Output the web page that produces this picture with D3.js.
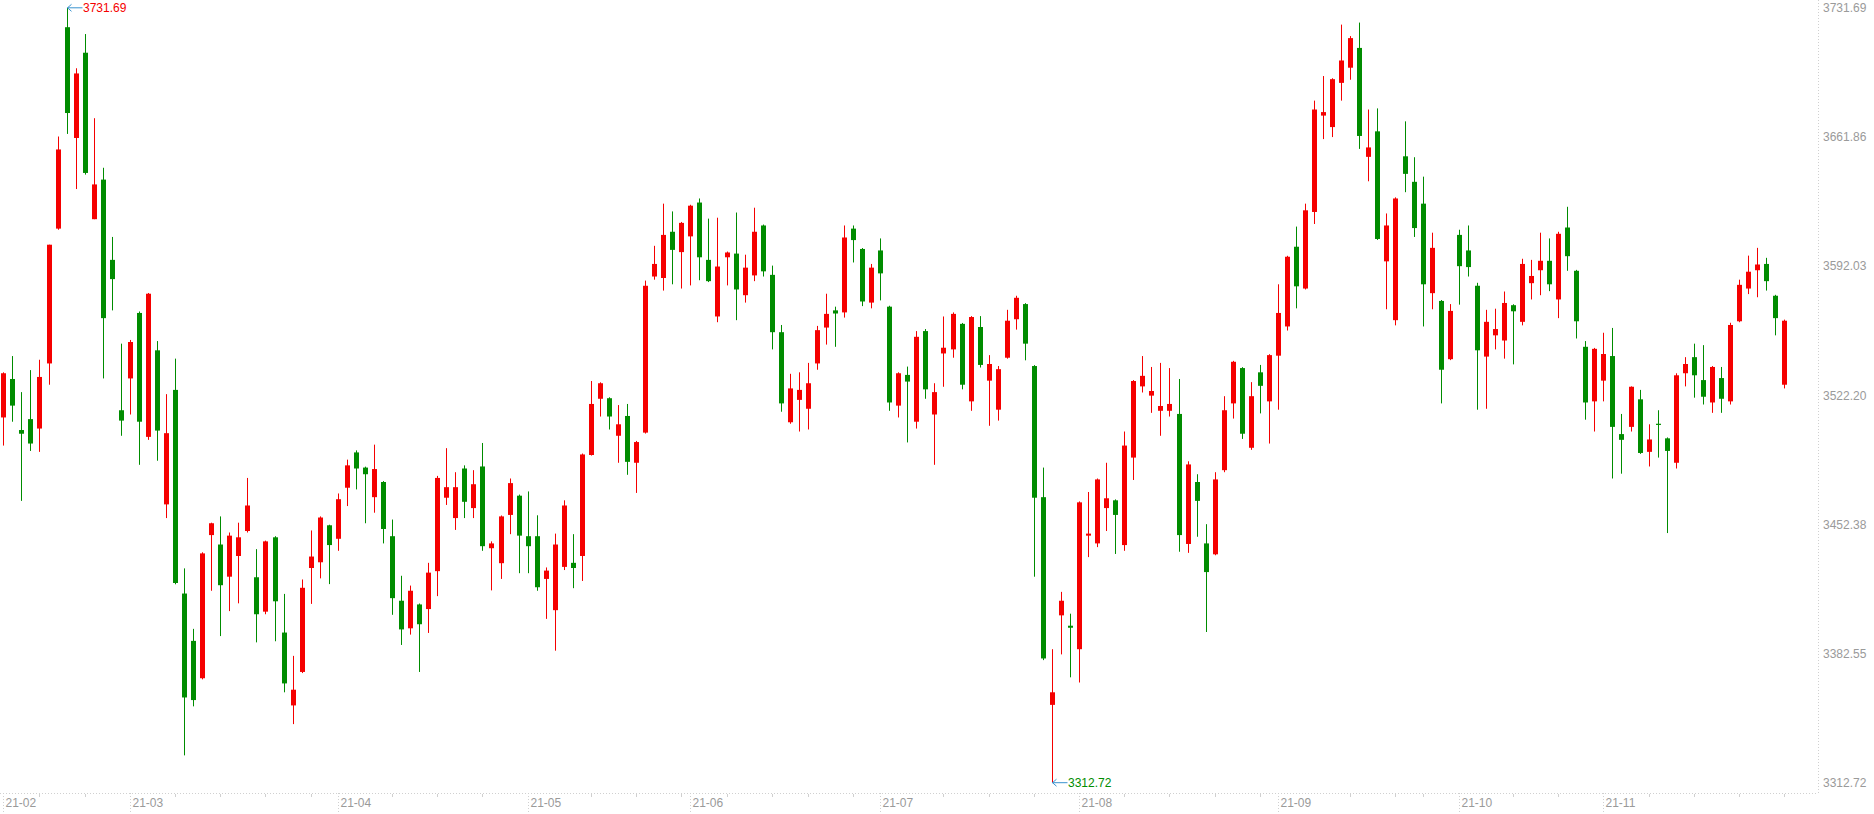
<html>
<head>
	<style>
		body{
		margin:0;
		background:#fff;
		}
	svg{
	display:block;
}
	</style>
</head>
<body>
	<div id="container"></div>
	<script src="https://d3js.org/d3.v7.min.js"></script>
	<script>
var width = 1874, height = 814;

// month labels and the trading days shown in each month (2021)
let monthLabels = ["21-02","21-03","21-04","21-05","21-06","21-07","21-08","21-09","21-10","21-11"]
let monthNums = [2,3,4,5,6,7,8,9,10,11]
let monthDays = [
	[2,3,4,5,8,9,10,18,19,22,23,24,25,26],
	[1,2,3,4,5,8,9,10,11,12,15,16,17,18,19,22,23,24,25,26,29,30,31],
	[1,2,6,7,8,9,12,13,14,15,16,19,20,21,22,23,26,27,28,29,30],
	[6,7,10,11,12,13,14,17,18,19,20,21,24,25,26,27,28,31],
	[1,2,3,4,7,8,9,10,11,15,16,17,18,21,22,23,24,25,28,29,30],
	[1,2,5,6,7,8,9,12,13,14,15,16,19,20,21,22,23,26,27,28,29,30],
	[2,3,4,5,6,9,10,11,12,13,16,17,18,19,20,23,24,25,26,27,30,31],
	[1,2,3,6,7,8,9,10,13,14,15,16,17,22,23,24,27,28,29,30],
	[8,11,12,13,14,15,18,19,20,21,22,25,26,27,28,29],
	[1,2,3,4,5,8,9,10,11,12,15,16,17,18,19,22,23,24,25,26,29]
]

let open = [3510.2,3531.0,3503.4,3509.3,3504.2,3539.4,3612.3,3721.2,3661.3,3707.4,
3617.4,3638.8,3595.4,3514.1,3531.3,3566.7,3499.7,3546.5,3463.2,3525.1,
3415.0,3389.4,3369.2,3446.6,3441.5,3424.1,3435.3,3448.8,3423.8,3405.2,
3445.4,3393.9,3354.5,3372.6,3428.8,3431.9,3451.9,3444.6,3472.2,3491.3,
3483.1,3467.1,3475.3,3446.0,3411.1,3396.2,3409.1,3406.6,3427.1,3466.8,
3455.8,3482.6,3461.2,3483.7,3439.5,3431.4,3457.5,3467.9,3446.0,3446.0,
3422.9,3406.0,3429.4,3431.6,3435.3,3489.9,3520.3,3520.6,3500.3,3511.0,
3485.7,3502.0,3586.4,3585.6,3610.6,3599.6,3608.1,3626.4,3595.4,3564.8,
3596.8,3598.8,3576.3,3587.0,3614.0,3587.3,3556.3,3507.6,3519.7,3514.9,
3539.4,3558.8,3568.1,3567.0,3612.3,3601.3,3572.3,3600.5,3570.1,3516.6,
3533.2,3507.9,3556.9,3511.8,3544.8,3547.0,3560.8,3518.9,3559.1,3530.1,
3514.4,3542.5,3563.3,3571.5,3538.0,3467.1,3354.8,3403.2,3397.6,3384.9,
3446.3,3442.1,3461.2,3465.4,3441.2,3488.5,3527.0,3522.0,3513.8,3513.8,
3512.1,3441.8,3475.3,3442.1,3436.2,3481.7,3517.8,3536.9,3493.8,3534.6,
3518.9,3543.6,3559.4,3602.5,3579.9,3621.3,3673.4,3667.2,3691.1,3699.3,
3710.0,3651.1,3664.9,3594.6,3562.8,3651.4,3637.6,3625.8,3577.4,3573.2,
3541.7,3608.9,3600.5,3581.4,3543.1,3554.6,3551.8,3570.9,3561.9,3582.8,
3589.8,3594.9,3574.0,3612.9,3589.5,3548.4,3518.9,3530.1,3543.4,3501.2,
3505.1,3520.0,3491.6,3506.8,3498.9,3485.7,3534.1,3542.8,3530.4,3518.3,
3531.5,3518.9,3562.2,3579.9,3589.8,3593.2,3576.0,3527.9]

let high = [3534.6,3543.4,3523.9,3535.8,3541.4,3603.6,3662.1,3731.69,3699.0,3717.5,
3672.0,3645.2,3607.8,3550.1,3552.1,3567.5,3577.5,3551.5,3522.8,3542.0,
3428.6,3395.9,3437.3,3453.3,3456.7,3448.0,3453.3,3477.5,3439.0,3443.6,
3446.0,3414.8,3381.3,3422.6,3449.1,3456.7,3452.2,3469.1,3487.4,3492.4,
3483.6,3495.5,3475.8,3455.0,3424.6,3419.3,3409.6,3431.6,3478.6,3493.6,
3480.6,3484.3,3481.7,3496.4,3443.2,3457.2,3477.2,3468.5,3470.2,3457.3,
3429.1,3447.4,3465.4,3447.1,3490.7,3529.9,3529.2,3521.1,3516.9,3517.5,
3497.5,3584.2,3603.0,3625.8,3621.6,3615.9,3625.2,3628.6,3617.7,3618.2,
3599.9,3621.0,3598.2,3623.6,3614.5,3592.3,3560.2,3533.8,3534.6,3539.7,
3559.7,3577.1,3570.1,3614.0,3614.0,3601.8,3593.2,3607.0,3570.6,3534.6,
3537.7,3556.9,3558.0,3528.7,3564.8,3567.0,3561.3,3565.0,3565.0,3543.9,
3538.0,3568.4,3576.0,3572.0,3538.5,3483.1,3384.9,3415.9,3404.1,3464.8,
3469.9,3477.2,3485.7,3465.9,3502.6,3530.4,3543.4,3537.5,3539.7,3536.9,
3531.0,3486.5,3479.5,3452.5,3480.6,3521.7,3540.8,3537.4,3529.3,3538.6,
3544.4,3582.2,3597.6,3613.4,3625.8,3681.5,3694.8,3693.6,3722.6,3716.4,
3723.7,3676.7,3677.3,3620.5,3629.2,3670.3,3650.9,3640.4,3610.1,3573.7,
3571.5,3611.7,3614.0,3583.0,3568.4,3569.0,3578.3,3571.4,3596.0,3595.4,
3610.1,3607.0,3610.6,3624.1,3590.0,3551.5,3547.8,3556.0,3558.6,3512.1,
3527.0,3525.1,3506.5,3514.1,3499.4,3534.1,3542.8,3550.1,3549.3,3538.0,
3537.5,3561.4,3584.7,3597.7,3601.9,3596.5,3576.5,3563.1]

let low = [3495.0,3507.9,3465.1,3492.1,3491.6,3527.9,3611.7,3663.5,3633.7,3641.5,
3617.4,3531.3,3568.1,3500.3,3511.8,3484.6,3498.1,3486.8,3455.8,3420.0,
3327.5,3354.0,3368.6,3416.5,3392.0,3405.5,3409.7,3448.0,3388.6,3403.8,
3389.2,3361.6,3344.4,3372.0,3409.4,3423.2,3420.1,3438.1,3462.3,3471.3,
3453.0,3458.7,3442.1,3403.5,3387.2,3392.8,3372.6,3393.7,3413.6,3462.9,
3449.4,3455.8,3455.8,3438.1,3416.7,3422.9,3447.1,3426.0,3426.0,3416.5,
3401.3,3384.1,3427.7,3417.9,3421.8,3489.6,3510.7,3503.7,3485.7,3479.2,
3469.4,3501.5,3584.7,3578.8,3582.2,3579.9,3581.6,3584.4,3583.4,3561.7,
3581.6,3562.8,3572.3,3583.9,3586.4,3547.0,3513.3,3506.8,3502.6,3503.7,
3536.0,3549.6,3548.4,3564.2,3594.0,3570.4,3569.2,3573.5,3513.8,3510.2,
3496.7,3504.2,3520.3,3484.6,3526.8,3542.5,3525.4,3513.8,3537.2,3505.7,
3508.5,3542.0,3557.7,3541.1,3424.1,3379.0,3312.72,3382.1,3369.7,3366.9,
3434.7,3440.1,3448.8,3436.4,3438.1,3476.4,3523.7,3512.7,3500.3,3510.7,
3437.6,3437.0,3445.7,3394.2,3435.7,3480.6,3509.6,3498.6,3492.7,3512.4,
3496.1,3514.4,3557.2,3569.2,3579.4,3614.8,3660.7,3661.8,3681.5,3692.8,
3655.4,3637.9,3606.2,3568.7,3560.0,3632.0,3607.8,3559.4,3568.7,3517.8,
3541.2,3571.2,3586.4,3514.4,3514.9,3547.0,3542.0,3538.9,3560.0,3574.0,
3576.3,3578.5,3563.9,3589.5,3552.9,3509.0,3502.6,3518.9,3477.2,3479.8,
3502.6,3490.5,3483.7,3488.5,3447.7,3482.6,3527.0,3520.9,3517.2,3512.7,
3512.7,3517.2,3561.7,3576.9,3575.2,3578.8,3554.6,3525.9]

let close = [3534.1,3516.6,3501.4,3496.1,3532.1,3603.6,3655.1,3674.8,3696.2,3642.4,
3636.2,3563.9,3585.0,3508.5,3551.0,3507.9,3577.1,3503.1,3501.7,3420.7,
3358.8,3357.4,3436.7,3453.0,3419.5,3446.3,3445.4,3462.6,3403.8,3443.2,
3410.8,3366.4,3363.0,3418.1,3435.0,3456.1,3441.2,3466.0,3484.3,3482.6,
3479.5,3482.3,3449.9,3412.5,3395.6,3416.5,3398.4,3426.3,3477.5,3472.5,
3472.5,3464.6,3474.1,3440.6,3442.1,3456.7,3474.7,3446.3,3440.6,3418.4,
3427.4,3441.5,3462.6,3428.8,3490.2,3517.5,3528.7,3510.7,3506.5,3486.2,
3496.9,3581.4,3593.2,3608.9,3600.8,3615.4,3624.7,3596.8,3583.9,3591.8,
3599.4,3579.4,3591.2,3610.6,3589.2,3556.3,3517.8,3525.9,3525.1,3528.7,
3557.4,3566.2,3566.4,3607.5,3606.1,3572.9,3591.2,3588.1,3518.3,3534.1,
3529.6,3553.8,3525.4,3523.9,3547.9,3566.2,3527.9,3564.5,3538.6,3539.1,
3536.3,3562.5,3574.9,3550.1,3466.8,3379.9,3361.6,3411.1,3396.5,3464.3,
3447.4,3476.7,3466.5,3457.5,3495.0,3529.9,3532.7,3524.5,3516.4,3517.5,
3446.6,3484.8,3465.1,3426.6,3476.7,3514.1,3540.3,3501.4,3521.7,3527.3,
3543.9,3566.7,3597.1,3581.1,3622.2,3676.7,3675.3,3693.1,3703.2,3715.3,
3662.4,3656.2,3606.7,3614.0,3628.6,3641.9,3612.6,3582.2,3601.9,3536.0,
3567.8,3592.0,3591.5,3546.5,3561.9,3558.0,3572.1,3567.6,3593.2,3586.7,
3594.9,3582.2,3609.5,3597.4,3562.2,3518.3,3547.3,3544.5,3505.1,3498.1,
3526.8,3491.0,3498.3,3506.2,3492.1,3533.0,3539.1,3533.0,3521.4,3537.5,
3520.3,3560.2,3581.9,3589.0,3592.9,3583.9,3563.9,3562.5]

let priceTicks = [3731.69,3661.86,3592.03,3522.20,3452.38,3382.55,3312.72]

// build candle list
let candles = []
let monthStarts = []
monthDays.forEach((days, m) => {
	monthStarts.push({i: candles.length, label: monthLabels[m]})
	days.forEach(d => {
		let i = candles.length
		candles.push({i: i, date: new Date(2021, monthNums[m]-1, d),
			o: open[i], h: high[i], l: low[i], c: close[i]})
	})
})

let red = "#f50000", green = "#008c00", grey = "#9a9a9a", dots = "#d0d0d0"
let plotRight = 1818, axisY = 793

var svg = d3.select("#container")
    .append("svg")
    .attr("width", width)
    .attr("height", height)
    .style("font-family", "'Liberation Sans', Arial, sans-serif")

var xscale = d3.scaleBand()
    .domain(candles.map(d => d.i))
    .range([-1.2, -1.2 + candles.length * 9.04])

var yscale = d3.scaleLinear()
	.domain([d3.min(low), d3.max(high)])
	.range([782.7, 7.8])

let cx = (d) => Math.round(xscale(d.i) + xscale.bandwidth() / 2)
let col = (d) => d.c >= d.o ? red : green

// dotted frame lines
svg.append("line")
	.attr("x1", plotRight + 0.5).attr("x2", plotRight + 0.5)
	.attr("y1", 0).attr("y2", axisY)
	.attr("stroke", dots).attr("stroke-dasharray", "1,2")
svg.append("line")
	.attr("x1", 0).attr("x2", plotRight)
	.attr("y1", axisY + 0.5).attr("y2", axisY + 0.5)
	.attr("stroke", dots).attr("stroke-dasharray", "1,2")

// right price axis
let yaxis = svg.append("g")
	.attr("transform", `translate(${plotRight},0)`)
	.call(d3.axisRight(yscale).tickValues(priceTicks).tickSize(0).tickPadding(5).tickFormat(d3.format(".2f")))
yaxis.select(".domain").remove()
yaxis.selectAll("text").attr("fill", grey).attr("font-size", 12)
	.style("font-family", "'Liberation Sans', Arial, sans-serif")

// week ticks (first trading day of a week, not next to a month label)
let weekTicks = candles.filter((d, k) => {
	if (k == 0) return false
	if (d.date.getDay() >= candles[k-1].date.getDay()) return false
	return !monthStarts.some(m => d.i >= m.i && d.i - m.i <= 3)
})
svg.selectAll(".wk")
	.data(weekTicks)
	.enter()
	.append("line")
	.attr("x1", d => cx(d) + 0.5).attr("x2", d => cx(d) + 0.5)
	.attr("y1", axisY + 1).attr("y2", axisY + 4)
	.attr("stroke", dots)

// month separators and labels
let mg = svg.selectAll(".month")
	.data(monthStarts)
	.enter()
	.append("g")
	.attr("transform", d => `translate(${cx(candles[d.i]) + 0.5},0)`)
mg.append("line")
	.attr("y1", axisY).attr("y2", height)
	.attr("stroke", dots).attr("stroke-dasharray", "1,2")
mg.append("text")
	.attr("x", 2).attr("y", 803)
	.attr("dy", "0.35em")
	.attr("fill", grey).attr("font-size", 12)
	.text(d => d.label)

// candles
let cg = svg.selectAll(".candle")
	.data(candles)
	.enter()
	.append("g")
cg.append("rect")
	.attr("x", d => cx(d))
	.attr("y", d => yscale(d.h))
	.attr("width", 1)
	.attr("height", d => yscale(d.l) - yscale(d.h))
	.attr("fill", col)
cg.append("rect")
	.attr("x", d => cx(d) - 2)
	.attr("y", d => yscale(Math.max(d.o, d.c)))
	.attr("width", 5)
	.attr("height", d => Math.max(1.2, Math.abs(yscale(d.o) - yscale(d.c))))
	.attr("fill", col)

// max / min markers
function marker(d, value, colour) {
	let px = cx(d) + 0.5, py = yscale(value)
	let g = svg.append("g").attr("transform", `translate(${px},${py})`)
	g.append("path")
		.attr("d", "M4,-3.5L0,0L4,3.5M0,0H15")
		.attr("fill", "none").attr("stroke", "#3a93cf").attr("stroke-width", 1)
	g.append("text")
		.attr("x", 15.5).attr("dy", "0.35em")
		.attr("fill", colour).attr("font-size", 12)
		.text(d3.format(".2f")(value))
}
let hi = candles[d3.maxIndex(high)], lo = candles[d3.minIndex(low)]
marker(hi, hi.h, red)
marker(lo, lo.l, green)

	</script>
</body>
</html>
